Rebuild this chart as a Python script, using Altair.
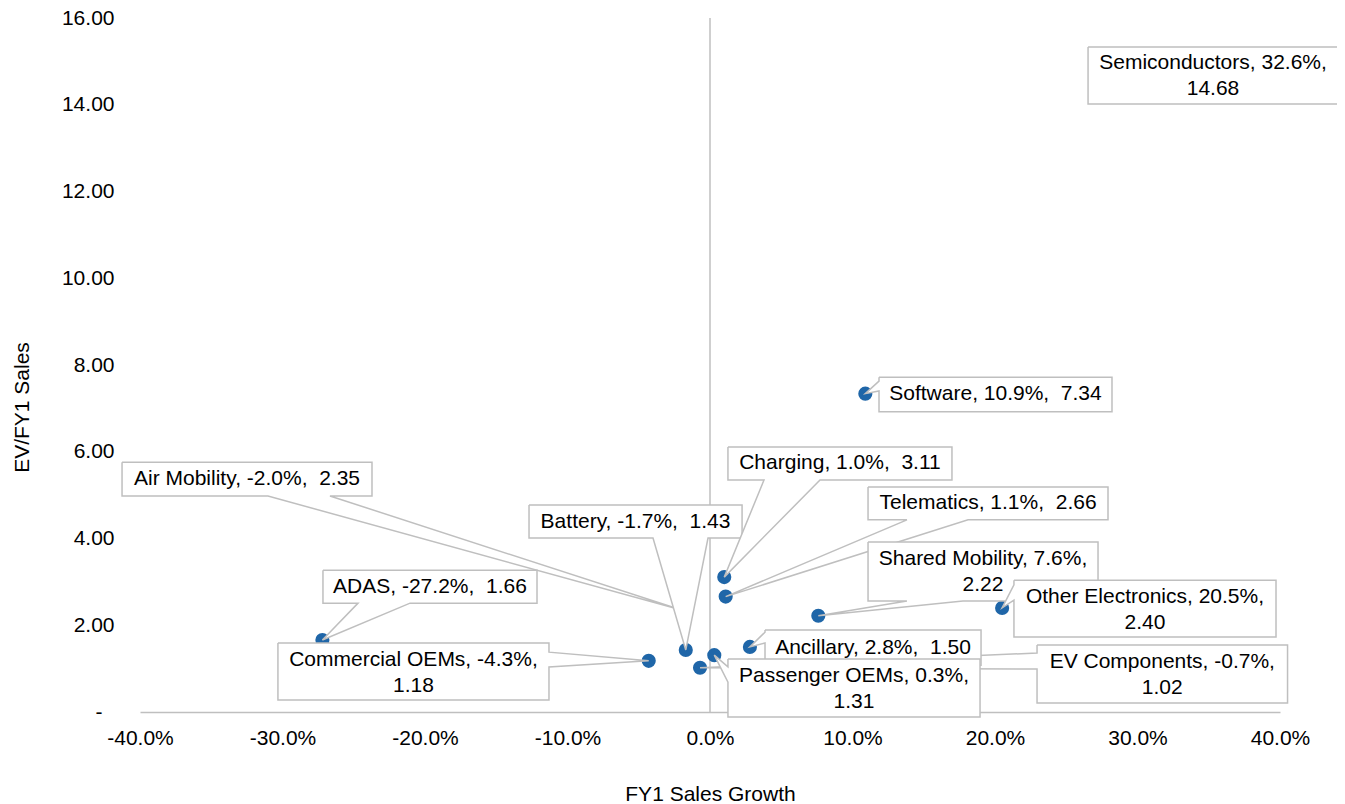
import altair as alt
import pandas as pd

# ---- data ----
categories = ["Semiconductors", "Software", "Charging", "Telematics", "Shared Mobility",
              "Other Electronics", "Ancillary", "Passenger OEMs", "EV Components",
              "Battery", "Air Mobility", "Commercial OEMs", "ADAS"]
sales_growth = [32.6, 10.9, 1.0, 1.1, 7.6, 20.5, 2.8, 0.3, -0.7, -1.7, -2.0, -4.3, -27.2]
ev_sales = [14.68, 7.34, 3.11, 2.66, 2.22, 2.40, 1.50, 1.31, 1.02, 1.43, 2.35, 1.18, 1.66]
marker_shown = [True, True, True, True, True, True, True, True, True, True, False, True, True]
two_line_labels = ["Semiconductors", "Shared Mobility", "Other Electronics",
                   "EV Components", "Passenger OEMs", "Commercial OEMs"]

x_ticks = [-40, -30, -20, -10, 0, 10, 20, 30, 40]
y_ticks = [0, 2, 4, 6, 8, 10, 12, 14, 16]

# ---- callout layout (data units): box x0, x1, y_top, y_bottom, wedge side, wedge base a, b ----
callouts = {
    "Air Mobility":      (-41.26, -23.72, 5.76, 4.98, "bottom", -31.02, -26.67),
    "Battery":           (-12.70, 2.25, 4.77, 4.01, "bottom", -4.0, -0.14),
    "ADAS":              (-27.16, -12.14, 3.27, 2.51, "bottom", -24.70, -21.05),
    "Commercial OEMs":   (-30.32, -11.30, 1.59, 0.277, "right", 1.38, 1.04),
    "Charging":          (1.26, 16.98, 6.11, 5.35, "bottom", 3.79, 7.72),
    "Telematics":        (11.09, 27.93, 5.19, 4.43, "bottom", 13.82, 18.11),
    "Shared Mobility":   (11.09, 27.23, 3.92, 2.56, "bottom", 13.82, 17.75),
    "Other Electronics": (21.33, 39.72, 3.04, 1.73, "left", 2.93, 2.58),
    "EV Components":     (22.95, 40.53, 1.545, 0.21, "left", 1.36, 0.99),
    "Ancillary":         (3.86, 19.02, 1.89, 1.08, "left", 1.84, 1.59),
    "Passenger OEMs":    (1.26, 18.95, 1.22, -0.115, "left", 1.04, 0.69),
    "Software":          (11.86, 28.21, 7.72, 6.92, "left", 7.63, 7.40),
    "Semiconductors":    (26.53, 44.07, 15.33, 14.02, "none", 0, 0),
}

FONT = "Liberation Sans"
GRAY = "#bfbfbf"
BLUE = "#1f66a8"

pts = pd.DataFrame({"name": categories, "growth": sales_growth, "ev": ev_sales,
                    "shown": marker_shown})


def label_text(n, g, v):
    if n in two_line_labels:
        return f"{n}, {g:.1f}%,\n{v:.2f}"
    return f"{n}, {g:.1f}%, \u00a0{v:.2f}"


poly_rows = []
text_rows = []
for n, (x0, x1, yt, yb, side, a, b) in callouts.items():
    i = categories.index(n)
    tx, ty = sales_growth[i], ev_sales[i]
    if side == "bottom":
        verts = [(x0, yt), (x1, yt), (x1, yb), (b, yb), (tx, ty), (a, yb), (x0, yb), (x0, yt)]
    elif side == "left":
        verts = [(x0, yt), (x1, yt), (x1, yb), (x0, yb), (x0, b), (tx, ty), (x0, a), (x0, yt)]
    elif side == "right":
        verts = [(x0, yt), (x1, yt), (x1, a), (tx, ty), (x1, b), (x1, yb), (x0, yb), (x0, yt)]
    else:
        verts = [(x0, yt), (x1, yt), (x1, yb), (x0, yb), (x0, yt)]
    for k, (vx, vy) in enumerate(verts):
        poly_rows.append({"name": n, "k": k, "x": vx, "y": vy})
    text_rows.append({"name": n, "x": (x0 + x1) / 2, "y": (yt + yb) / 2,
                      "label": label_text(n, tx, ty)})

poly_df = pd.DataFrame(poly_rows)
text_df = pd.DataFrame(text_rows)

xscale = alt.Scale(domain=[-40, 40], nice=False, zero=False)
yscale = alt.Scale(domain=[0, 16], nice=False, zero=False)

x_axis = alt.Axis(values=x_ticks,
                  labelExpr="(datum.value < 0 ? '-' : '') + format(abs(datum.value), '.1f') + '%'",
                  grid=False, ticks=False, domain=True, domainColor=GRAY, domainWidth=1.5,
                  labelFlush=False, labelOverlap=False,
                  labelPadding=15, labelFont=FONT, labelFontSize=21, labelColor="#000000",
                  title="FY1 Sales Growth", titleFont=FONT, titleFontSize=21,
                  titleFontWeight="normal", titleColor="#000000",
                  titleBaseline="alphabetic", titleX=570, titleY=88, titleAlign="center")
y_axis = alt.Axis(values=y_ticks,
                  labelExpr="datum.value == 0 ? '-' : format(datum.value, '.2f')",
                  grid=False, ticks=False, domain=False,
                  labelPadding={"condition": {"test": "datum.value === 0", "value": 38},
                                "value": 26},
                  labelFlush=False, labelOverlap=False,
                  labelFont=FONT, labelFontSize=21, labelColor="#000000",
                  title="EV/FY1 Sales", titleFont=FONT, titleFontSize=21,
                  titleFontWeight="normal", titleColor="#000000", titleAngle=270,
                  titleBaseline="alphabetic", titleX=-112, titleY=389, titleAlign="center")


def X(field):
    return alt.X(field, scale=xscale, axis=x_axis, title="FY1 Sales Growth")


def Y(field):
    return alt.Y(field, scale=yscale, axis=y_axis, title="EV/FY1 Sales")


# y axis line crossing at 0%
rule_df = pd.DataFrame({"x": [0], "y": [0], "y2": [16]})
vrule = alt.Chart(rule_df).mark_rule(color=GRAY, strokeWidth=1.5).encode(
    x=X("x:Q"), y=Y("y:Q"), y2="y2:Q",
)

points = alt.Chart(pts).transform_filter(alt.datum.shown).mark_circle(
    size=200, color=BLUE, opacity=1).encode(
    x=X("growth:Q"), y=Y("ev:Q"),
)

layers = [vrule, points]
for n in callouts:
    poly = alt.Chart(poly_df).transform_filter(alt.datum.name == n).mark_line(
        fill="white", stroke=GRAY, strokeWidth=1.5, strokeJoin="miter").encode(
        x=X("x:Q"), y=Y("y:Q"), order="k:Q",
    )
    dy = -12 if n in two_line_labels else 0
    txt = alt.Chart(text_df).transform_filter(alt.datum.name == n).mark_text(
        font=FONT, fontSize=21, color="#000000", align="center", baseline="middle",
        lineBreak="\n", lineHeight=26, dy=dy).encode(
        x=X("x:Q"), y=Y("y:Q"), text="label:N",
    )
    layers += [poly, txt]

chart = alt.layer(*layers).properties(
    width=1140, height=694,
    autosize=alt.AutoSizeParams(type="none"),
    padding={"left": 132, "top": 10, "right": 57, "bottom": 90},
).configure_view(strokeWidth=0)

chart.save("out.html", embed_options={"renderer": "svg", "actions": False})
